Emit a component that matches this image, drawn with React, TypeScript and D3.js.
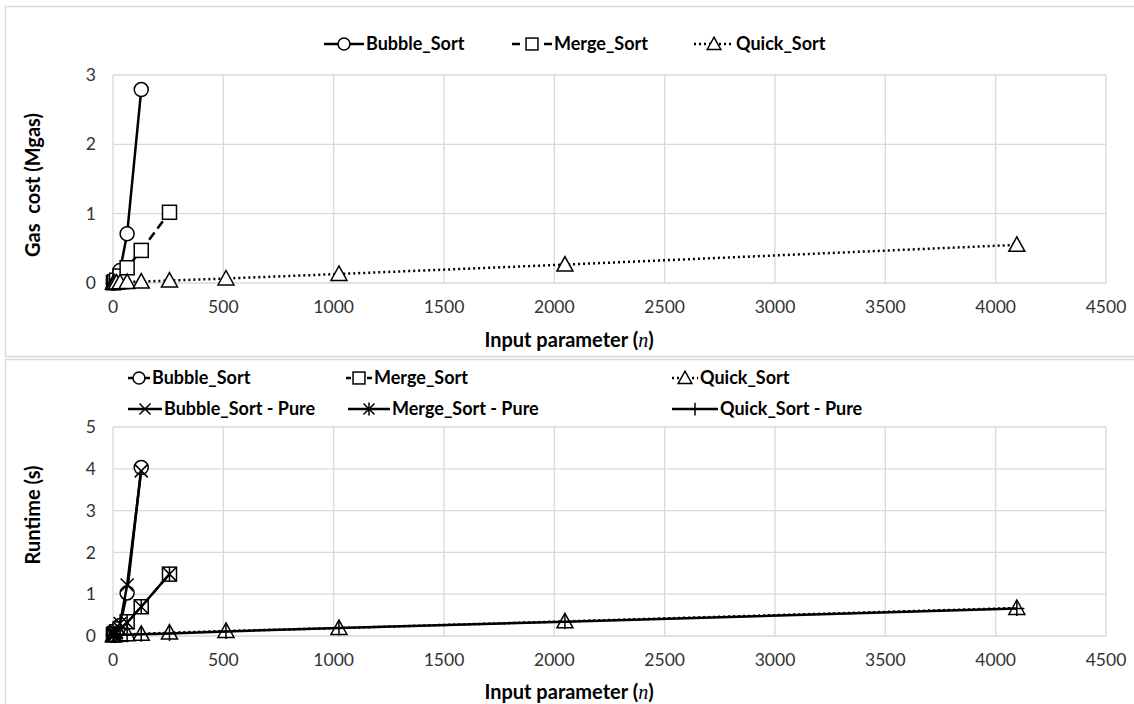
import React from 'react';
import * as d3 from 'd3';

// ---------- data ----------
const nValues = [2, 4, 8, 16, 32, 64, 128, 256, 512, 1024, 2048, 4096];
const xTicks = [0, 500, 1000, 1500, 2000, 2500, 3000, 3500, 4000, 4500];
const gasTicks = [0, 1, 2, 3];
const runtimeTicks = [0, 1, 2, 3, 4, 5];

// Gas cost (Mgas)
const gasBubble = [0.001, 0.003, 0.011, 0.045, 0.18, 0.71, 2.79];
const gasMerge = [0.004, 0.008, 0.016, 0.04, 0.1, 0.22, 0.47, 1.02];
const gasQuick = [0.001, 0.002, 0.003, 0.005, 0.008, 0.014, 0.02, 0.035, 0.065, 0.13, 0.265, 0.55];

// Runtime (s)
const rtBubble = [0.02, 0.02, 0.03, 0.07, 0.25, 1.03, 4.03];
const rtMerge = [0.03, 0.04, 0.06, 0.1, 0.17, 0.34, 0.7, 1.48];
const rtQuick = [0.02, 0.02, 0.02, 0.03, 0.03, 0.04, 0.05, 0.08, 0.12, 0.19, 0.35, 0.67];
const rtBubblePure = [0.02, 0.02, 0.03, 0.08, 0.3, 1.22, 3.95];
const rtMergePure = [0.03, 0.04, 0.06, 0.1, 0.17, 0.32, 0.7, 1.48];
const rtQuickPure = [0.01, 0.01, 0.02, 0.02, 0.03, 0.03, 0.04, 0.06, 0.11, 0.19, 0.34, 0.66];

type MarkerType = 'circle' | 'square' | 'triangle' | 'cross' | 'star' | 'plus';
interface Series {
  name: string;
  values: number[];
  dash: string | null;
  marker: MarkerType;
}

const gasSeries: Series[] = [
  { name: 'Bubble_Sort', values: gasBubble, dash: null, marker: 'circle' },
  { name: 'Merge_Sort', values: gasMerge, dash: '9,5', marker: 'square' },
  { name: 'Quick_Sort', values: gasQuick, dash: '2,3', marker: 'triangle' },
];
const rtSeries: Series[] = [
  { name: 'Bubble_Sort', values: rtBubble, dash: null, marker: 'circle' },
  { name: 'Merge_Sort', values: rtMerge, dash: '9,5', marker: 'square' },
  { name: 'Quick_Sort', values: rtQuick, dash: '2,3', marker: 'triangle' },
  { name: 'Bubble_Sort - Pure', values: rtBubblePure, dash: null, marker: 'cross' },
  { name: 'Merge_Sort - Pure', values: rtMergePure, dash: null, marker: 'star' },
  { name: 'Quick_Sort - Pure', values: rtQuickPure, dash: null, marker: 'plus' },
];

const FONT = 'Lato, "Open Sans", sans-serif';
const GRID = '#d9d9d9';

function Marker({ type, x, y, scale = 1 }: { type: MarkerType; x: number; y: number; scale?: number }) {
  const sw = 1.5;
  const k = scale;
  switch (type) {
    case 'circle':
      return <circle cx={x} cy={y} r={7 * k} fill="#fff" stroke="#000" strokeWidth={sw} />;
    case 'square':
      return <rect x={x - 7 * k} y={y - 7 * k} width={14 * k} height={14 * k} fill="#fff" stroke="#000" strokeWidth={sw} />;
    case 'triangle': {
      const s = 8 * k;
      return (
        <path
          d={`M${x},${y - s}L${x + s},${y + s * 0.8}L${x - s},${y + s * 0.8}Z`}
          fill="#fff"
          stroke="#000"
          strokeWidth={sw}
        />
      );
    }
    case 'cross': {
      const s = 6.5 * k;
      return <path d={`M${x - s},${y - s}L${x + s},${y + s}M${x - s},${y + s}L${x + s},${y - s}`} stroke="#000" strokeWidth={sw} />;
    }
    case 'star': {
      const s = 6.5 * k;
      return (
        <path
          d={`M${x - s},${y - s}L${x + s},${y + s}M${x - s},${y + s}L${x + s},${y - s}M${x},${y - s - 1}L${x},${y + s + 1}`}
          stroke="#000"
          strokeWidth={sw}
        />
      );
    }
    case 'plus': {
      const s = 7.5 * k;
      return <path d={`M${x - s},${y}L${x + s},${y}M${x},${y - s}L${x},${y + s}`} stroke="#000" strokeWidth={sw} />;
    }
  }
  return null;
}

function LegendItem({ s, x, y, len }: { s: Series; x: number; y: number; len: number }) {
  const half = len / 2;
  const lineEl =
    s.dash === '9,5' ? (
      <g stroke="#000" strokeWidth={2.5}>
        <line x1={x} x2={x + Math.min(8, half - 8)} y1={y} y2={y} />
        <line x1={x + len - Math.min(8, half - 8)} x2={x + len} y1={y} y2={y} />
      </g>
    ) : (
      <line x1={x} x2={x + len} y1={y} y2={y} stroke="#000" strokeWidth={2.5} strokeDasharray={s.dash ?? undefined} />
    );
  return (
    <g>
      {lineEl}
      <Marker type={s.marker} x={x + half} y={y} scale={0.85} />
      <text x={x + len + 2} y={y} dy="0.35em" fontFamily={FONT} fontWeight={700} fontSize={18} fill="#000">
        {s.name}
      </text>
    </g>
  );
}

interface ChartProps {
  top: number;
  bottom: number;
  yTicks: number[];
  yTitle: string;
  series: Series[];
  titleY: number;
  yTitleY: number;
}

function Chart({ top, bottom, yTicks, yTitle, series, titleY, yTitleY }: ChartProps) {
  const x = d3.scaleLinear().domain([0, 4500]).range([113, 1106]);
  const yMax = d3.max(yTicks) as number;
  const y = d3.scaleLinear().domain([0, yMax]).range([bottom, top]);
  const line = d3
    .line<[number, number]>()
    .x((d) => x(d[0]))
    .y((d) => y(d[1]));
  return (
    <g>
      {yTicks.map((t) => (
        <line key={'h' + t} x1={x(0)} x2={x(4500)} y1={y(t)} y2={y(t)} stroke={GRID} strokeWidth={1.3} />
      ))}
      {xTicks.map((t) => (
        <line key={'v' + t} x1={x(t)} x2={x(t)} y1={y(0)} y2={y(yMax)} stroke={GRID} strokeWidth={1.3} />
      ))}
      {yTicks.map((t) => (
        <text key={'yl' + t} x={x(0) - 17} y={y(t)} dy="0.35em" textAnchor="end" fontFamily={FONT} fontSize={17.5} fill="#333">
          {t}
        </text>
      ))}
      {xTicks.map((t) => (
        <text key={'xl' + t} x={x(t)} y={bottom + 24} dy="0.35em" textAnchor="middle" fontFamily={FONT} fontSize={17.5} fill="#333">
          {t}
        </text>
      ))}
      {series.map((s) => {
        const pts = s.values.map((v, i) => [nValues[i], v] as [number, number]);
        return (
          <g key={s.name}>
            <path d={line(pts) ?? ''} fill="none" stroke="#000" strokeWidth={2.5} strokeDasharray={s.dash ?? undefined} />
            {pts.map((p, i) => (
              <Marker key={i} type={s.marker} x={x(p[0])} y={y(p[1])} />
            ))}
          </g>
        );
      })}
      <text x={569} y={titleY} dy="0.35em" textAnchor="middle" fontFamily={FONT} fontWeight={700} fontSize={20} fill="#000">
        Input parameter (
        <tspan fontFamily='"Liberation Serif", serif' fontStyle="italic" fontWeight={400}>
          n
        </tspan>
        )
      </text>
      <text
        transform={`translate(33,${yTitleY}) rotate(-90)`}
        dy="0.35em"
        textAnchor="middle"
        fontFamily={FONT}
        fontWeight={700}
        fontSize={20}
        fill="#000"
        style={{ whiteSpace: 'pre' }}
      >
        {yTitle}
      </text>
    </g>
  );
}

export default function App() {
  return (
    <svg width={1134} height={704} style={{ position: 'absolute', left: 0, top: 0, background: '#fff' }}>
      <rect x={0} y={0} width={1134} height={704} fill="#fff" />
      <rect x={5.5} y={6.5} width={1140} height={350} fill="none" stroke={GRID} strokeWidth={1.5} />
      <rect x={5.5} y={359.5} width={1140} height={360} fill="none" stroke={GRID} strokeWidth={1.5} />

      {/* top legend */}
      <LegendItem s={gasSeries[0]} x={324} y={44} len={40} />
      <LegendItem s={gasSeries[1]} x={512} y={44} len={40} />
      <LegendItem s={gasSeries[2]} x={694} y={44} len={40} />

      <Chart top={75} bottom={283} yTicks={gasTicks} yTitle={'Gas  cost (Mgas)'} series={gasSeries} titleY={340} yTitleY={185} />

      {/* bottom legend */}
      <LegendItem s={rtSeries[0]} x={128} y={378} len={22} />
      <LegendItem s={rtSeries[1]} x={346} y={378} len={26} />
      <LegendItem s={rtSeries[2]} x={672} y={378} len={26} />
      <LegendItem s={rtSeries[3]} x={128} y={409} len={34} />
      <LegendItem s={rtSeries[4]} x={348} y={409} len={42} />
      <LegendItem s={rtSeries[5]} x={672} y={409} len={46} />

      <Chart top={427} bottom={636} yTicks={runtimeTicks} yTitle={'Runtime (s)'} series={rtSeries} titleY={692} yTitleY={515} />
    </svg>
  );
}
